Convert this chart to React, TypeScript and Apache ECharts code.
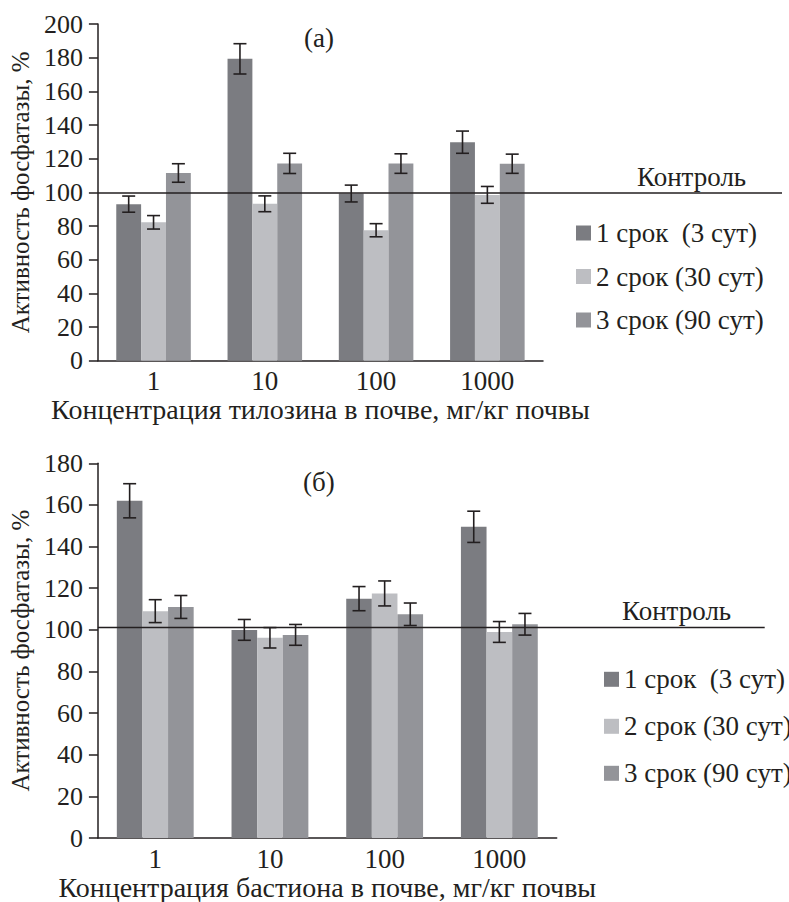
import React, { useEffect, useRef } from "react";
import * as echarts from "echarts";

const categories = ["1", "10", "100", "1000"];
const seriesNames = ["1 срок  (3 сут)", "2 срок (30 сут)", "3 срок (90 сут)"];

// Chart (а): tylosin
const a1 = [93, 179.3, 99.3, 129.8];
const a1err = [4.8, 9, 5, 6.6];
const a2 = [82.2, 93.2, 77.5, 98.5];
const a2err = [4, 4.7, 3.9, 5];
const a3 = [111.5, 117.2, 117.1, 117];
const a3err = [5.5, 6, 5.8, 5.7];
const controlA = 99.6;

// Chart (б): bastion
const b1 = [162, 100, 115, 149.5];
const b1err = [8.2, 5, 5.8, 7.5];
const b2 = [109, 96.2, 117.5, 99];
const b2err = [5.5, 4.9, 6, 5];
const b3 = [111, 97.6, 107.5, 102.7];
const b3err = [5.5, 5, 5.4, 5.2];
const controlB = 101.2;

const yTicksA = { min: 0, max: 200, interval: 20 };
const yTicksB = { min: 0, max: 180, interval: 20 };

const COLORS = ["#7b7c81", "#bdbec2", "#939499"];
const INK = "#231f20";
const FONT = "Liberation Serif";
const FS = 27;
const GAP = 0.33;

function errData(vals: number[][], errs: number[][]) {
  const out: number[][] = [];
  vals.forEach((arr, si) => {
    arr.forEach((v, ci) => {
      out.push([ci, si, v - errs[si][ci], v + errs[si][ci]]);
    });
  });
  return out;
}

const errRender = (params: any, api: any) => {
  const cat = api.value(0);
  const si = api.value(1);
  const lo = api.value(2);
  const hi = api.value(3);
  const band = api.size([1, 0])[0];
  const bw = (band * (1 - GAP)) / 3;
  const cx = api.coord([cat, 0])[0] + (si - 1) * bw;
  const yLo = api.coord([cat, lo])[1];
  const yHi = api.coord([cat, hi])[1];
  const hw = 6.5;
  const style = { stroke: INK, lineWidth: 1.6 };
  return {
    type: "group",
    children: [
      { type: "line", shape: { x1: cx, y1: yLo, x2: cx, y2: yHi }, style },
      { type: "line", shape: { x1: cx - hw, y1: yLo, x2: cx + hw, y2: yLo }, style },
      { type: "line", shape: { x1: cx - hw, y1: yHi, x2: cx + hw, y2: yHi }, style },
    ],
  };
};

const controlRender = (extra: number) => (params: any, api: any) => {
  const y = api.coord([0, api.value(1)])[1];
  const cs = params.coordSys;
  return {
    type: "line",
    shape: { x1: cs.x, y1: y, x2: cs.x + cs.width + extra, y2: y },
    style: { stroke: INK, lineWidth: 1.5 },
  };
};

export default function App() {
  const ref = useRef<HTMLDivElement>(null);
  useEffect(() => {
    if (!ref.current) return;
    const chart = echarts.init(ref.current, null, { renderer: "svg" });
    const textStyle = { fontFamily: FONT, fontSize: FS, color: INK };
    const xAxisCommon = (gi: number, name: string) => ({
      type: "category",
      gridIndex: gi,
      data: categories,
      axisLine: { show: true, lineStyle: { color: INK, width: 1.5 } },
      axisTick: { show: false },
      axisLabel: { ...textStyle, margin: 7 },
      name,
      nameLocation: "middle",
      nameGap: 34,
      nameTextStyle: { ...textStyle, fontSize: 28 },
    });
    const yAxisCommon = (gi: number, t: any) => ({
      type: "value",
      gridIndex: gi,
      min: t.min,
      max: t.max,
      interval: t.interval,
      axisLine: { show: true, lineStyle: { color: INK, width: 1.5 } },
      axisTick: { show: true, length: 9, lineStyle: { color: INK, width: 1.5 } },
      axisLabel: { ...textStyle, fontSize: 26, margin: 15 },
      splitLine: { show: false },
      name: "Активность фосфатазы, %",
      nameLocation: "middle",
      nameGap: 57,
      nameTextStyle: { ...textStyle, fontSize: 25 },
    });
    const bars = (gi: number, vals: number[][]) =>
      vals.map((v, i) => ({
        type: "bar",
        name: seriesNames[i],
        xAxisIndex: gi,
        yAxisIndex: gi,
        data: v,
        barGap: "0%",
        barCategoryGap: GAP * 100 + "%",
        itemStyle: { color: COLORS[i] },
      }));
    const legend = (left: number, top: number, gap: number) => ({
      data: seriesNames,
      orient: "vertical",
      left,
      top,
      padding: 0,
      icon: "rect",
      itemWidth: 15,
      itemHeight: 15,
      itemGap: gap,
      textStyle: { ...textStyle, lineHeight: 25 },
    });
    const option: any = {
      animation: false,
      backgroundColor: "#ffffff",
      textStyle: { fontFamily: FONT },
      grid: [
        { left: 97.7, top: 24, width: 445.3, height: 336.7 },
        { left: 97.7, top: 463.3, width: 459, height: 382.7 },
      ],
      xAxis: [
        xAxisCommon(0, "Концентрация тилозина в почве, мг/кг почвы"),
        xAxisCommon(1, "Концентрация бастиона в почве, мг/кг почвы"),
      ],
      yAxis: [yAxisCommon(0, yTicksA), yAxisCommon(1, yTicksB)],
      legend: [legend(576, 219.5, 16.5), legend(604, 665.8, 20)],
      series: [
        ...bars(0, [a1, a2, a3]),
        ...bars(1, [b1, b2, b3]),
        {
          type: "custom",
          xAxisIndex: 0,
          yAxisIndex: 0,
          data: errData([a1, a2, a3], [a1err, a2err, a3err]),
          renderItem: errRender,
          encode: { x: 0, y: [2, 3] },
          z: 5,
          silent: true,
        },
        {
          type: "custom",
          xAxisIndex: 1,
          yAxisIndex: 1,
          data: errData([b1, b2, b3], [b1err, b2err, b3err]),
          renderItem: errRender,
          encode: { x: 0, y: [2, 3] },
          z: 5,
          silent: true,
        },
        {
          type: "custom",
          xAxisIndex: 0,
          yAxisIndex: 0,
          data: [[0, controlA]],
          renderItem: controlRender(239),
          encode: { x: 0, y: 1 },
          clip: false,
          z: 6,
          silent: true,
        },
        {
          type: "custom",
          xAxisIndex: 1,
          yAxisIndex: 1,
          data: [[0, controlB]],
          renderItem: controlRender(208),
          encode: { x: 0, y: 1 },
          clip: false,
          z: 6,
          silent: true,
        },
      ],
      graphic: [
        { type: "text", left: 304, top: 24, style: { text: "(а)", fontFamily: FONT, fontSize: FS, fill: INK } },
        { type: "text", left: 303, top: 468, style: { text: "(б)", fontFamily: FONT, fontSize: FS, fill: INK } },
        { type: "text", left: 637, top: 163.5, style: { text: "Контроль", fontFamily: FONT, fontSize: FS, fill: INK } },
        { type: "text", left: 622, top: 597, style: { text: "Контроль", fontFamily: FONT, fontSize: FS, fill: INK } },
      ],
    };
    chart.setOption(option);
    return () => chart.dispose();
  }, []);
  return (
    <div
      ref={ref}
      style={{ position: "absolute", left: 0, top: 0, width: 789, height: 902, background: "#fff" }}
    />
  );
}
